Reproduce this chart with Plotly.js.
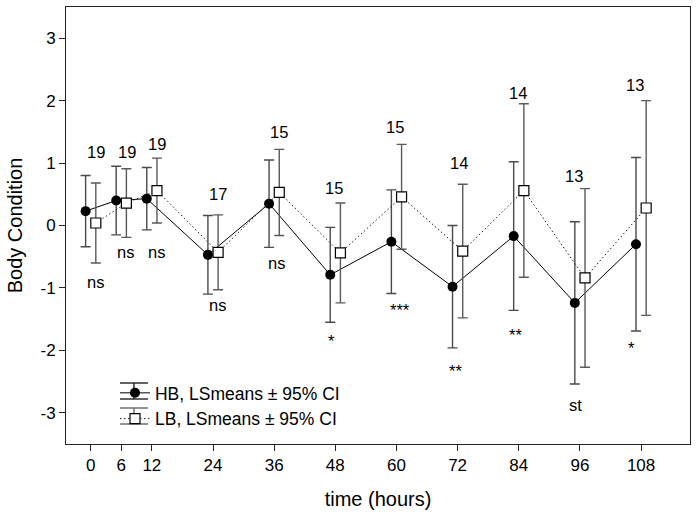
<!DOCTYPE html>
<html>
<head>
<meta charset="utf-8">
<script src="https://cdn.plot.ly/plotly-3.0.1.min.js"></script>
<style>
  html, body { margin: 0; padding: 0; background: #ffffff; }
  #chart { width: 700px; height: 517px; }
</style>
</head>
<body>
<div id="chart"></div>
<script>
// ---- data ----
const time = [0, 6, 12, 24, 36, 48, 60, 72, 84, 96, 108];

const hbMean = [0.23, 0.40, 0.43, -0.47, 0.35, -0.79, -0.26, -0.98, -0.17, -1.24, -0.30];
const hbCI   = [0.57, 0.55, 0.50, 0.63, 0.70, 0.76, 0.83, 0.98, 1.19, 1.30, 1.39];

const lbMean = [0.04, 0.36, 0.56, -0.43, 0.53, -0.44, 0.46, -0.41, 0.56, -0.84, 0.28];
const lbCI   = [0.64, 0.55, 0.52, 0.60, 0.69, 0.80, 0.84, 1.07, 1.39, 1.43, 1.72];

const countLabels = ['19', '19', '19', '17', '15', '15', '15', '14', '14', '13', '13'];
const sigLabels   = ['ns', 'ns', 'ns', 'ns', 'ns', '*', '***', '**', '**', 'st', '*'];

const xTickVals = [0, 6, 12, 24, 36, 48, 60, 72, 84, 96, 108];
const yTickVals = [-3, -2, -1, 0, 1, 2, 3];

// ---- annotation placement (layout only) ----
const countLabelX = [1.04, 7.07, 12.95, 24.93, 36.96, 47.75, 59.7, 72.3, 83.9, 94.8, 106.8];
const countLabelY = [1.17, 1.17, 1.30, 0.51, 1.50, 0.60, 1.57, 1.00, 2.12, 0.79, 2.25];
const sigLabelX   = [0.98, 6.87, 12.95, 24.93, 36.5, 47.2, 60.7, 71.5, 83.4, 95.1, 106.2];
const sigLabelY   = [-0.90, -0.42, -0.42, -1.28, -0.60, -1.85, -1.36, -2.33, -1.75, -2.88, -1.96];

const dodge = 1; // hours, HB left / LB right of each time point
const FONT = 'Liberation Sans, Arial, Helvetica, sans-serif';

const hb = {
  type: 'scatter',
  mode: 'lines+markers',
  name: 'HB, LSmeans \u00b1 95% CI',
  x: time.map(t => t - dodge),
  y: hbMean,
  error_y: { type: 'data', array: hbCI, visible: true, color: '#4a4a4a', thickness: 1.4, width: 5 },
  line: { color: '#000000', width: 1 },
  marker: { symbol: 'circle', size: 10, color: '#000000', line: { color: '#000000', width: 0 } }
};

const lb = {
  type: 'scatter',
  mode: 'lines+markers',
  name: 'LB, LSmeans \u00b1 95% CI',
  x: time.map(t => t + dodge),
  y: lbMean,
  error_y: { type: 'data', array: lbCI, visible: true, color: '#5a5a5a', thickness: 1.4, width: 5 },
  line: { color: '#222222', width: 1, dash: '1.5px,2.5px' },
  marker: { symbol: 'square', size: 10, color: '#ffffff', line: { color: '#000000', width: 1.2 } }
};

const annotations = [];
countLabels.forEach((txt, i) => {
  annotations.push({ x: countLabelX[i], y: countLabelY[i], xref: 'x', yref: 'y', text: txt,
    showarrow: false, xanchor: 'center', yanchor: 'middle', font: { family: FONT, size: 16.5, color: '#000' } });
});
sigLabels.forEach((txt, i) => {
  annotations.push({ x: sigLabelX[i], y: sigLabelY[i], xref: 'x', yref: 'y', text: txt,
    showarrow: false, xanchor: 'center', yanchor: 'middle', font: { family: FONT, size: 16.5, color: '#000' } });
});

// legend error-bar caps (decoration of the legend symbols, in paper coordinates)
const PX0 = 66, PW = 624, PY1 = 444, PH = 437;
const px = v => (v - PX0) / PW;
const py = v => (PY1 - v) / PH;
const capShapes = [];
const legCx = 134;
[[391, '#222'], [416, '#666']].forEach(([cy, col]) => {
  [cy - 8, cy + 8].forEach(yy => capShapes.push({
    type: 'line', xref: 'paper', yref: 'paper', x0: px(legCx - 14), x1: px(legCx + 14), y0: py(yy), y1: py(yy),
    line: { color: col, width: 1.4 }
  }));
  capShapes.push({
    type: 'line', xref: 'paper', yref: 'paper', x0: px(legCx), x1: px(legCx), y0: py(cy - 8), y1: py(cy + 8),
    line: { color: col, width: 1.4 }
  });
});

const layout = {
  width: 700,
  height: 517,
  margin: { l: 66, r: 10, t: 7, b: 73 },
  paper_bgcolor: '#ffffff',
  plot_bgcolor: '#ffffff',
  font: { family: FONT, color: '#000000', size: 17 },
  showlegend: true,
  legend: {
    x: 0.0785, y: 0.158, xanchor: 'left', yanchor: 'top',
    bgcolor: 'rgba(0,0,0,0)', borderwidth: 0,
    font: { family: FONT, size: 17.5, color: '#000' },
    itemwidth: 30,
    tracegroupgap: 0
  },
  xaxis: {
    range: [-4.85, 117.6],
    tickvals: xTickVals,
    ticktext: xTickVals.map(String),
    ticks: 'outside', ticklen: 6, tickwidth: 1, tickcolor: '#222',
    showline: true, linecolor: '#222', linewidth: 1, mirror: true,
    showgrid: false, zeroline: false,
    tickfont: { family: FONT, size: 17, color: '#000' },
    title: { text: 'time (hours)', font: { family: FONT, size: 20, color: '#000' }, standoff: 17 }
  },
  yaxis: {
    range: [-3.5, 3.5],
    tickvals: yTickVals,
    ticktext: yTickVals.map(String),
    ticks: 'outside', ticklen: 6, tickwidth: 1, tickcolor: '#222',
    showline: true, linecolor: '#222', linewidth: 1, mirror: true,
    showgrid: false, zeroline: false,
    tickfont: { family: FONT, size: 17, color: '#000' },
    title: { text: 'Body Condition', font: { family: FONT, size: 20, color: '#000' }, standoff: 12 }
  },
  shapes: capShapes,
  annotations: annotations
};

Plotly.newPlot('chart', [hb, lb], layout, { displayModeBar: false, staticPlot: true });
</script>
</body>
</html>
